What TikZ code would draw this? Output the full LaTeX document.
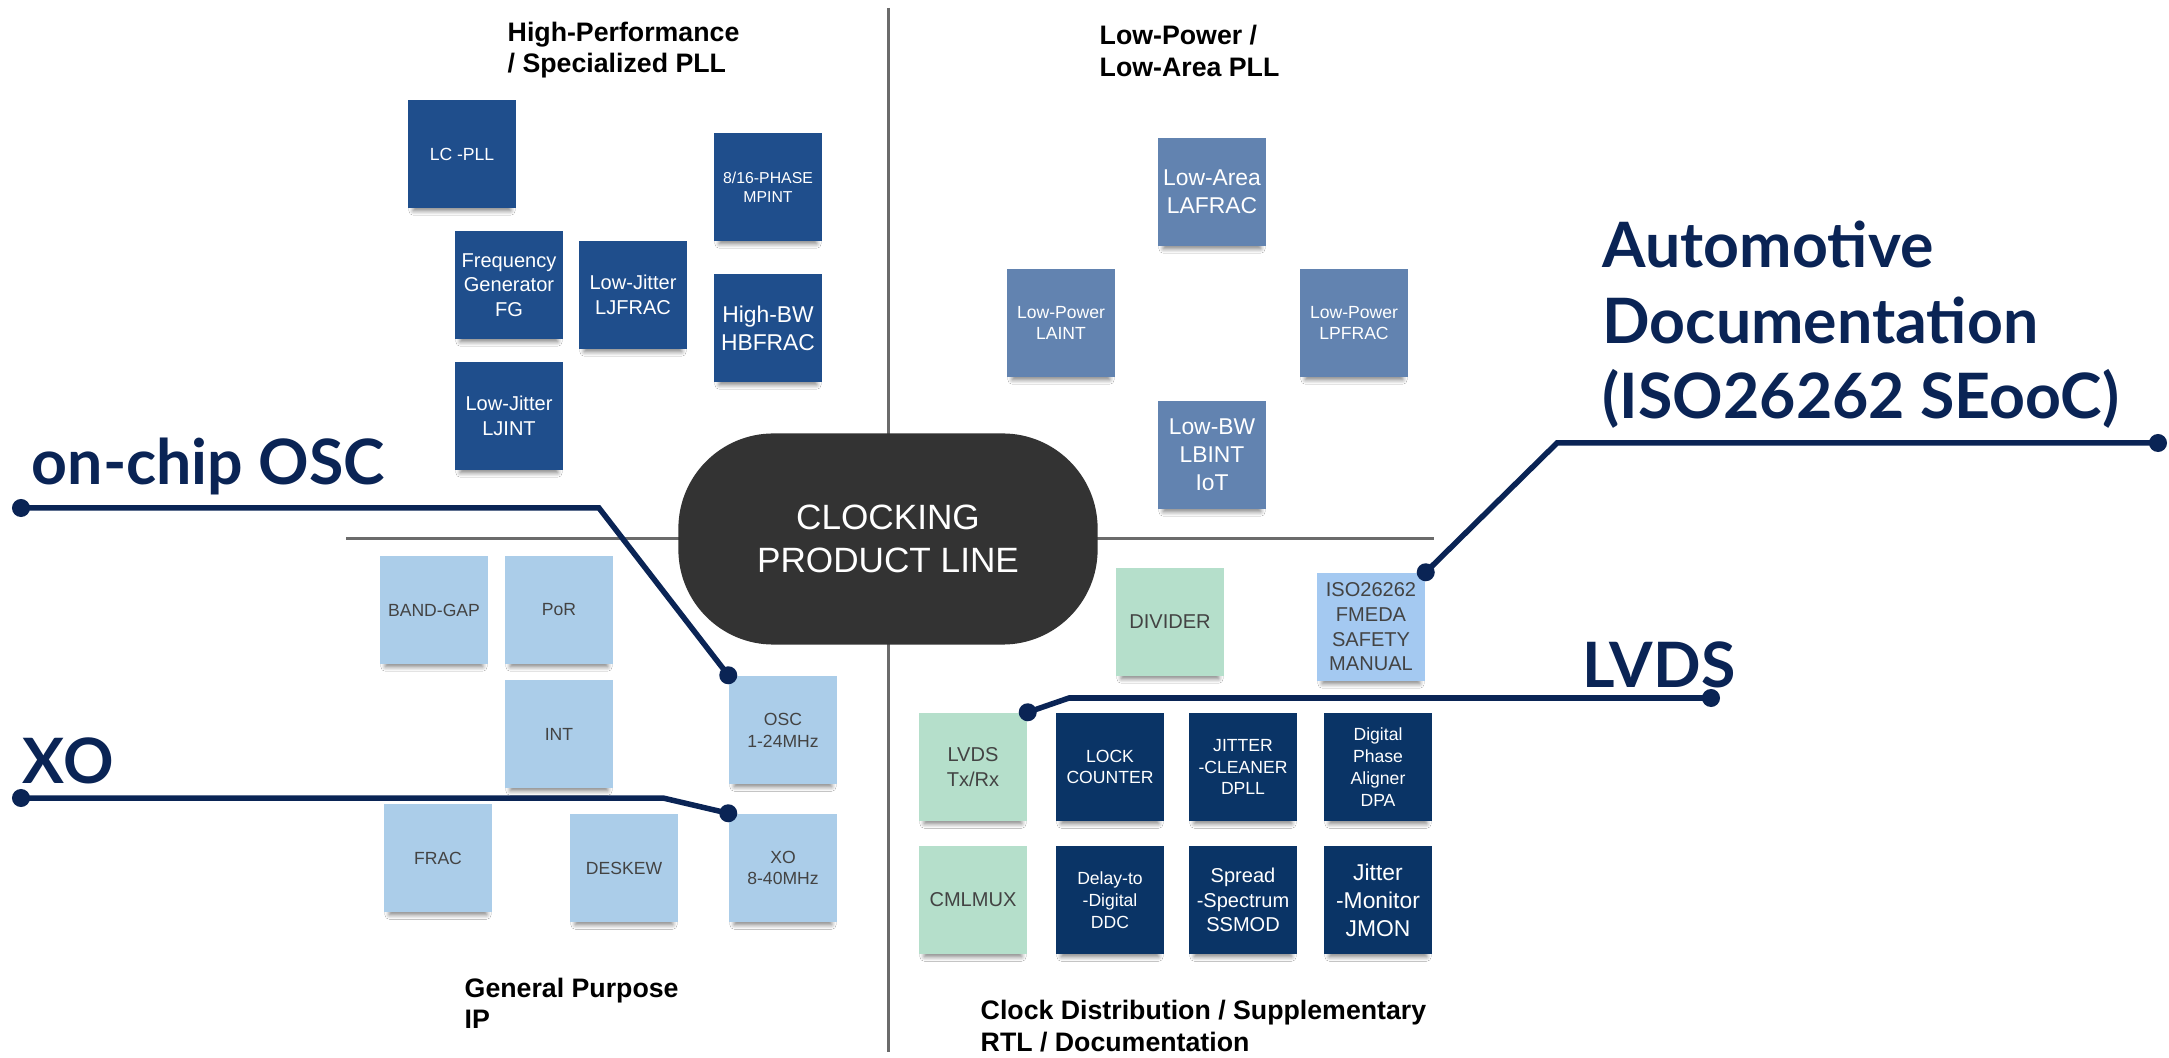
\documentclass[tikz,border=0pt]{standalone}
\usepackage{fontspec}
\setmainfont{Liberation Sans}
\newfontfamily\calloutfont{Lato}
\usetikzlibrary{shadows.blur}

\definecolor{hpblue}{HTML}{1F4E8C}
\definecolor{lpblue}{HTML}{6283B0}
\definecolor{gpblue}{HTML}{ABCDE9}
\definecolor{rtlgreen}{HTML}{B5DFCB}
\definecolor{rtlnavy}{HTML}{0A3466}
\definecolor{isoblue}{HTML}{A4C9F1}
\definecolor{leadnavy}{HTML}{0A2455}
\definecolor{pillgray}{HTML}{333333}
\definecolor{divgray}{HTML}{6B6B6B}
\definecolor{boxtext}{HTML}{434343}

\begin{document}
\begin{tikzpicture}
        [x=0.01cm, y=-0.01cm,
        box/.style={minimum width=1.08cm, minimum height=1.08cm, inner sep=1pt, align=center,
          blur shadow={shadow xshift=0pt, shadow yshift=-0.09cm, shadow scale=0.9,
            shadow opacity=50, shadow blur radius=0.05cm, shadow blur steps=6}},
        hpbox/.style={box, fill=hpblue, text=white},
        lpbox/.style={box, fill=lpblue, text=white},
        gpbox/.style={box, fill=gpblue, text=boxtext},
        greenbox/.style={box, fill=rtlgreen, text=boxtext},
        rtlbox/.style={box, fill=rtlnavy, text=white},
        isobox/.style={box, fill=isoblue, text=boxtext},
        tinytext/.style={font=\fontsize{4.5}{5.5}\selectfont},
        smalltext/.style={font=\fontsize{5}{6.2}\selectfont},
        midtext/.style={font=\fontsize{5.7}{7}\selectfont},
        bigtext/.style={font=\fontsize{6.5}{8}\selectfont},
        heading/.style={anchor=west, align=left, inner sep=0pt, font=\bfseries\fontsize{7.6}{8.9}\selectfont},
        callout/.style={anchor=base west, align=left, inner sep=0pt, text=leadnavy,
          font=\calloutfont\bfseries\fontsize{17.8}{21.6}\selectfont},
        pill/.style={fill=pillgray, text=white, rounded corners=0.95cm, minimum width=4.19cm,
          minimum height=2.11cm, align=center, font=\fontsize{10}{12.2}\selectfont},
        divider/.style={divgray, line width=0.03cm},
        leader/.style={leadnavy, line width=0.055cm},
        dot/.style={circle, fill=leadnavy, inner sep=0pt, minimum size=0.18cm}]

    \fill[white] (0,0) rectangle (2169,1058);
    \useasboundingbox (0,0) rectangle (2169,1058);

    \draw[divider] (346,539) -- (1434,539);
    \draw[divider] (888,8) -- (888,1052);

    \node[heading] (hphead) at (507,50) {High-Performance\\/ Specialized PLL};
    \node[heading] (lphead) at (1099,51) {Low-Power /\\Low-Area PLL};
    \node[heading] (gphead) at (464,1003) {General Purpose\\IP};
    \node[heading] (cdhead) at (980,1026) {Clock Distribution / Supplementary\\RTL / Documentation};

    \begin{scope}
      \node[hpbox, smalltext] (lcpll) at (462,154) {LC -PLL};
      \node[hpbox, midtext] (fg) at (509,285) {Frequency\\Generator\\FG};
      \node[hpbox, midtext] (ljfrac) at (633,295) {Low-Jitter\\LJFRAC};
      \node[hpbox, tinytext] (mpint) at (768,187) {8/16-PHASE\\MPINT};
      \node[hpbox, bigtext] (hbfrac) at (768,328) {High-BW\\HBFRAC};
      \node[hpbox, midtext] (ljint) at (509,416) {Low-Jitter\\LJINT};
    \end{scope}

    \begin{scope}
      \node[lpbox, bigtext] (lafrac) at (1212,192) {Low-Area\\LAFRAC};
      \node[lpbox, smalltext] (laint) at (1061,323) {Low-Power\\LAINT};
      \node[lpbox, smalltext] (lpfrac) at (1354,323) {Low-Power\\LPFRAC};
      \node[lpbox, bigtext] (lbint) at (1212,455) {Low-BW\\LBINT\\IoT};
    \end{scope}

    \begin{scope}
      \node[gpbox, smalltext] (bandgap) at (434,610) {BAND-GAP};
      \node[gpbox, smalltext] (por) at (559,610) {PoR};
      \node[gpbox, smalltext] (int) at (559,734) {INT};
      \node[gpbox, smalltext] (osc) at (783,730) {OSC\\1-24MHz};
      \node[gpbox, smalltext] (frac) at (438,858) {FRAC};
      \node[gpbox, smalltext] (deskew) at (624,868) {DESKEW};
      \node[gpbox, smalltext] (xo) at (783,868) {XO\\8-40MHz};
    \end{scope}

    \begin{scope}
      \node[greenbox, midtext] (divider) at (1170,622) {DIVIDER};
      \node[isobox, midtext] (iso) at (1371,627) {ISO26262\\FMEDA\\SAFETY\\MANUAL};
      \node[greenbox, midtext] (lvds) at (973,767) {LVDS\\Tx/Rx};
      \node[rtlbox, smalltext] (lock) at (1110,767) {LOCK\\COUNTER};
      \node[rtlbox, smalltext] (jcleaner) at (1243,767) {JITTER\\-CLEANER\\DPLL};
      \node[rtlbox, smalltext] (dpa) at (1378,767) {Digital\\Phase\\Aligner\\DPA};
      \node[greenbox, midtext] (cmlmux) at (973,900) {CMLMUX};
      \node[rtlbox, smalltext] (ddc) at (1110,900) {Delay-to\\-Digital\\DDC};
      \node[rtlbox, midtext] (ssmod) at (1243,900) {Spread\\-Spectrum\\SSMOD};
      \node[rtlbox, bigtext] (jmon) at (1378,900) {Jitter\\-Monitor\\JMON};
    \end{scope}

    \node[pill] (core) at (888,539) {CLOCKING\\PRODUCT LINE};

    \coordinate (oscend) at (21,508);
    \coordinate (oscbend) at (599,508);
    \coordinate (xoend) at (21,798);
    \coordinate (xobend) at (663,798);
    \coordinate (lvdsbend) at (1069,698);
    \coordinate (lvdsend) at (1711,698);
    \coordinate (isobend) at (1557,443);
    \coordinate (isoend) at (2158,443);

    \draw[leader] (oscend) -- (oscbend) -- (osc.north west);
    \draw[leader] (xoend) -- (xobend) -- (xo.north west);
    \draw[leader] (lvds.north east) -- (lvdsbend) -- (lvdsend);
    \draw[leader] (iso.north east) -- (isobend) -- (isoend);

    \node[dot] (oscdot1) at (oscend) {};
    \node[dot] (oscdot2) at (osc.north west) {};
    \node[dot] (xodot1) at (xoend) {};
    \node[dot] (xodot2) at (xo.north west) {};
    \node[dot] (lvdsdot1) at (lvds.north east) {};
    \node[dot] (lvdsdot2) at (lvdsend) {};
    \node[dot] (isodot1) at (iso.north east) {};
    \node[dot] (isodot2) at (isoend) {};

    \node[callout] (osclabel) at (31,485) {on-chip OSC};
    \node[callout] (xolabel) at (22,783) {XO};
    \node[callout] (lvdslabel) at (1582,688) {LVDS};
    \node[callout] (autolabel) at (1602,419) {Automotive\\Documentation\\(ISO26262 SEooC)};
    \end{tikzpicture}
\end{document}
